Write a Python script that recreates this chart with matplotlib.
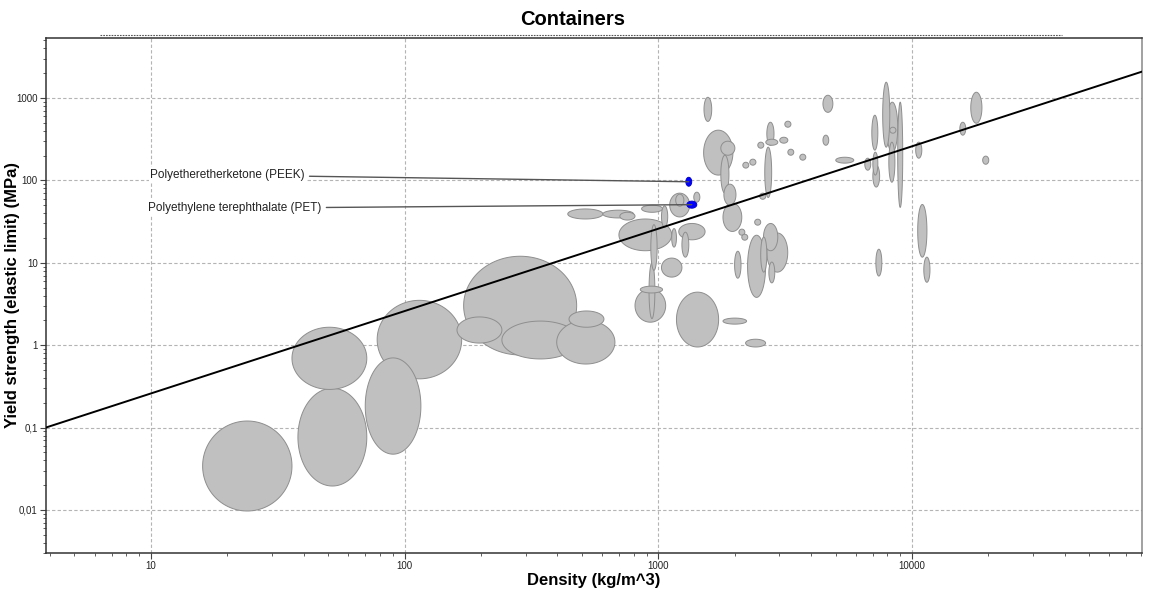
import numpy as np
import matplotlib
matplotlib.use("Agg")
import matplotlib.pyplot as plt
from matplotlib.ticker import FuncFormatter, NullFormatter, LogLocator
from matplotlib.lines import Line2D

plt.rcParams['font.family'] = ['Liberation Sans', 'DejaVu Sans']

# material bubbles: density range (kg/m^3) and yield strength range (MPa)
rho_lo = [16, 38, 36, 70, 78, 171, 161, 242, 398, 445,
          810, 850, 935, 920, 1030, 1180, 1800, 2210, 2250, 2680,
          2600, 2535, 2730, 2000, 2400, 2080, 2135, 1815, 1800, 1510,
          1765, 1765, 1515, 4460, 4460, 5010, 2680, 2655, 2630, 3155,
          3013, 3243, 3614, 2469, 2296, 2155, 2512, 440, 605, 706,
          860, 700, 1110, 1172, 1381, 1030, 1205, 1240, 1130, 7670,
          7960, 8790, 6950, 7015, 7015, 6520, 8110, 8180, 10350, 17060,
          15450, 19010, 10540, 11140, 7210]
rho_hi = [36, 71, 71, 116, 168, 477, 242, 486, 675, 611,
          1070, 1040, 990, 970, 1240, 1730, 2230, 2650, 2650, 3240,
          2960, 2680, 2880, 2120, 2535, 2195, 2254, 2025, 2135, 1970,
          2005, 1900, 1625, 4880, 4700, 5900, 2860, 2960, 2800, 3335,
          3243, 3422, 3817, 2607, 2427, 2275, 2655, 605, 800, 810,
          1040, 1130, 1330, 1262, 1459, 1090, 1530, 1320, 1180, 8180,
          8790, 9200, 7340, 7340, 7460, 6880, 8570, 8650, 10940, 18880,
          16300, 20090, 11460, 11780, 7610]
ys_lo = [0.0097, 0.0195, 0.29, 0.0475, 0.39, 0.76, 1.06, 0.68, 0.59, 1.65,
         1.9, 4.3, 8.1, 2.1, 6.7, 0.95, 1.8, 0.95, 3.8, 7.7,
         14, 7.7, 5.7, 6.5, 28.6, 21.6, 18.8, 50, 24, 116,
         202, 70, 520, 670, 267, 162, 267, 267, 62, 442,
         283, 202, 176, 246, 153, 141, 59, 34, 35, 33,
         41, 14, 36, 48.6, 54.4, 27, 19, 11.7, 15.5, 253,
         220, 47, 233, 116, 83, 133, 95, 374, 186, 494,
         354, 157, 11.7, 5.8, 6.9]
ys_hi = [0.12, 0.30, 1.65, 0.70, 3.5, 12, 2.2, 1.96, 2.0, 2.6,
         4.8, 5.2, 29, 10, 11.4, 4.4, 2.13, 1.18, 21.6, 23,
         30, 20.5, 10.2, 13.8, 33.8, 25.6, 22.2, 90, 53, 407,
         299, 202, 1020, 1080, 354, 191, 508, 316, 253, 523,
         334, 239, 208, 291, 181, 166, 70, 45, 43.5, 41,
         50, 34, 70, 68, 71.9, 49, 30, 23.5, 26, 1555,
         890, 890, 618, 220, 153, 186, 291, 442, 291, 1175,
         508, 197, 51, 11.7, 14.6]

# highlighted materials
hl_names = ["Polyetheretherketone (PEEK)", "Polyethylene terephthalate (PET)"]
hl_rho_lo = [1285, 1297]
hl_rho_hi = [1355, 1419]
hl_ys_lo = [85, 46]
hl_ys_hi = [109, 56]
hl_label_x = [40.5, 47.2]
hl_label_y = [116, 46]

# performance index guide line (slope 1)
guide_x = [3.86, 80700]
guide_y = [0.1, 2090]

fig = plt.figure(figsize=(11.52, 5.92), dpi=100)
ax = fig.add_axes([0.0399, 0.0659, 0.9514, 0.8699])
ax.set_xscale('log')
ax.set_yscale('log')
ax.set_xlim(3.86, 80700)
ax.set_ylim(0.0030, 5350)

t = np.linspace(0, 2 * np.pi, 160)


def bubble(x0, x1, y0, y1, fc, ec, z):
    lx0, lx1, ly0, ly1 = np.log10([x0, x1, y0, y1])
    cx, cy = (lx0 + lx1) / 2, (ly0 + ly1) / 2
    rx, ry = (lx1 - lx0) / 2, (ly1 - ly0) / 2
    ax.fill(10 ** (cx + rx * np.cos(t)), 10 ** (cy + ry * np.sin(t)),
            facecolor=fc, edgecolor=ec, lw=0.7, zorder=z)


# biggest bubbles first so small ones stay visible
areas = [np.log10(b / a) * np.log10(d / c)
         for a, b, c, d in zip(rho_lo, rho_hi, ys_lo, ys_hi)]
for i in np.argsort(areas)[::-1]:
    bubble(rho_lo[i], rho_hi[i], ys_lo[i], ys_hi[i], '#c0c0c0', '#8e8e8e', 2)

ax.plot(guide_x, guide_y, color='black', lw=1.4, zorder=3)

for i in range(len(hl_names)):
    bubble(hl_rho_lo[i], hl_rho_hi[i], hl_ys_lo[i], hl_ys_hi[i], '#0000ff', '#0000cc', 4)
    px = np.sqrt(hl_rho_lo[i] * hl_rho_hi[i])
    py = np.sqrt(hl_ys_lo[i] * hl_ys_hi[i])
    ax.annotate(hl_names[i], xy=(px, py), xytext=(hl_label_x[i], hl_label_y[i]),
                ha='right', va='center', fontsize=8.5, color='#222222', zorder=5,
                bbox=dict(boxstyle='square,pad=0.15', fc='white', ec='none'),
                arrowprops=dict(arrowstyle='-', color='#555555', lw=1.0,
                                shrinkA=2, shrinkB=0))

ax.set_axisbelow(True)
ax.grid(True, which='major', ls=(0, (3, 2)), color='#b4b4b4', lw=0.8)

fmt = FuncFormatter(lambda v, p: ('%g' % v).replace('.', ','))
for axis in (ax.xaxis, ax.yaxis):
    axis.set_major_locator(LogLocator(base=10))
    axis.set_minor_locator(LogLocator(base=10, subs=np.arange(2, 10)))
    axis.set_major_formatter(fmt)
    axis.set_minor_formatter(NullFormatter())
ax.tick_params(which='major', direction='out', length=4, width=0.8, labelsize=7,
               pad=2, color='#444444', labelcolor='#222222')
ax.tick_params(which='minor', direction='out', length=2.5, width=0.6, color='#444444')

for s in ax.spines.values():
    s.set_color('#333333')
    s.set_linewidth(1.1)
ax.spines['right'].set_color('#888888')

ax.set_xlabel('Density (kg/m^3)', fontsize=12, fontweight='bold', labelpad=1)
fig.text(13 / 1152, 0.5017, 'Yield strength (elastic limit) (MPa)', rotation=90,
         ha='center', va='center', fontsize=12, fontweight='bold')

fig.text(0.497, 0.9665, 'Containers', ha='center', va='center', fontsize=14.5, fontweight='bold')
fig.add_artist(Line2D([0.0868, 0.922], [0.941, 0.941], transform=fig.transFigure,
                      ls=(0, (1.5, 1)), color='#555555', lw=0.8))

fig.savefig('out.png', dpi=100)
